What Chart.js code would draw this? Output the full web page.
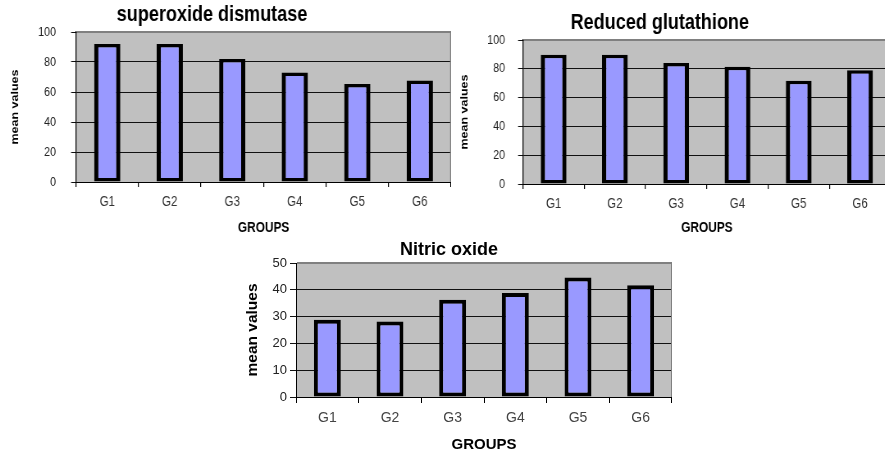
<!DOCTYPE html>
<html><head><meta charset="utf-8">
<script src="https://cdn.jsdelivr.net/npm/chart.js@4"></script>
<style>
html,body{margin:0;padding:0;background:#fff;}
body{position:relative;width:885px;height:454px;overflow:hidden;}
canvas{position:absolute;transform-origin:0 0;}
#c1,#c2{transform:scaleX(0.82);}
</style></head><body>
<canvas id="c1" width="583" height="240" style="left:-27px;top:0px"></canvas>
<canvas id="c2" width="563" height="240" style="left:429px;top:0px"></canvas>
<canvas id="c3" width="446" height="224" style="left:226px;top:230px"></canvas>
<script>
const groups = ['G1', 'G2', 'G3', 'G4', 'G5', 'G6'];
const sodValues = [92, 92, 82, 73, 65.3, 67.7];
const gshValues = [89.7, 89.7, 84, 81.5, 71.7, 79];
const noValues = [28.8, 28.2, 36.3, 38.8, 44.6, 41.7];
const sodTicks = [0, 20, 40, 60, 80, 100];
const gshTicks = [0, 20, 40, 60, 80, 100];
const noTicks = [0, 10, 20, 30, 40, 50];
const sodTitle = 'superoxide dismutase';
const gshTitle = 'Reduced glutathione';
const noTitle = 'Nitric oxide';
const yAxisTitle = 'mean values';
const xAxisTitle = 'GROUPS';

const FONT = 'Arial, "Liberation Sans", sans-serif';

const plotFrame = {
  id: 'plotFrame',
  beforeDraw(chart) {
    const {ctx, chartArea: a} = chart;
    ctx.save();
    ctx.fillStyle = '#C0C0C0';
    ctx.fillRect(a.left, a.top, a.right - a.left, a.bottom - a.top);
    ctx.restore();
  },
  beforeDatasetsDraw(chart, args, opts) {
    const {ctx, chartArea: a} = chart;
    ctx.save();
    ctx.strokeStyle = '#808080';
    ctx.lineWidth = 2;
    ctx.beginPath();
    ctx.moveTo(a.left + 1, a.top);
    ctx.lineTo(a.right, a.top);
    ctx.stroke();
    ctx.lineWidth = opts.rightWidth || 2;
    ctx.beginPath();
    ctx.moveTo(a.right, a.top - 1);
    ctx.lineTo(a.right, a.bottom);
    ctx.stroke();
    ctx.restore();
  }
};

function makeChart(id, title, values, ticks, L) {
  return new Chart(document.getElementById(id), {
    type: 'bar',
    data: {
      labels: groups,
      datasets: [{
        data: values,
        backgroundColor: '#9999FF',
        borderColor: '#000',
        borderWidth: L.barBorder,
        borderSkipped: false,
        barPercentage: L.bar,
        categoryPercentage: 1
      }]
    },
    options: {
      responsive: false,
      animation: false,
      devicePixelRatio: 1,
      layout: {padding: 0},
      plugins: {
        legend: {display: false},
        tooltip: {enabled: false},
        plotFrame: {rightWidth: L.vLine * 2},
        title: {
          display: true, text: title, color: '#000',
          font: {family: FONT, size: L.titleSize, weight: 'bold'},
          padding: L.titlePad
        }
      },
      scales: {
        x: {
          grid: {drawOnChartArea: false, drawTicks: true, tickLength: L.xTickLen, color: '#000', lineWidth: L.vLine, offset: true},
          border: {color: '#000', width: 1},
          ticks: {color: L.xTickColor, font: {family: FONT, size: L.xTickSize}, padding: L.xTickPad, maxRotation: 0, autoSkip: false},
          title: {display: true, text: xAxisTitle, color: '#000',
                  font: {family: FONT, size: L.xTitleSize, weight: 'bold'},
                  padding: {top: 0, bottom: L.xTitlePad}},
          afterFit(s) { s.height = L.xHeight; }
        },
        y: {
          min: ticks[0], max: ticks[ticks.length - 1],
          afterBuildTicks(s) { s.ticks = ticks.map(v => ({value: v})); },
          grid: {color: '#111', tickLength: L.yTickLen, drawTicks: true},
          border: {color: '#000', width: L.vLine},
          ticks: {color: '#222', font: {family: FONT, size: L.yTickSize}, padding: L.yTickPad},
          title: {display: true, text: yAxisTitle, color: '#000',
                  font: {family: FONT, size: L.yTitleSize, weight: 'bold'},
                  padding: {top: L.yTitlePad, bottom: 0}},
          afterFit(s) { s.width = L.yWidth; }
        }
      }
    },
    plugins: [plotFrame]
  });
}

makeChart('c1', sodTitle, sodValues, sodTicks, {
  bar: 0.42, barBorder: {top: 3.5, bottom: 3.5, left: 5.2, right: 5.2}, vLine: 1.2,
  titleSize: 22, titlePad: {top: 1.8, bottom: 3.8},
  xTickLen: 5, yTickLen: 6, xTickColor: '#333', xTickSize: 14, xTickPad: 6.3,
  xTitleSize: 14.5, xTitlePad: 3.3, xHeight: 58,
  yTickSize: 13, yTickPad: 18.4, yTitleSize: 12.5, yTitlePad: 43.7, yWidth: 125.6
});
makeChart('c2', gshTitle, gshValues, gshTicks, {
  bar: 0.42, barBorder: {top: 3.5, bottom: 3.5, left: 5.2, right: 5.2}, vLine: 1.2,
  titleSize: 22, titlePad: {top: 9.8, bottom: 3.8},
  xTickLen: 5, yTickLen: 6, xTickColor: '#333', xTickSize: 14, xTickPad: 6.6,
  xTitleSize: 14.5, xTitlePad: 3.8, xHeight: 56,
  yTickSize: 13, yTickPad: 15.9, yTitleSize: 12.5, yTitlePad: 36.4, yWidth: 114.6
});
makeChart('c3', noTitle, noValues, noTicks, {
  bar: 0.43, barBorder: 4, vLine: 1,
  titleSize: 18, titlePad: {top: 9.2, bottom: 2.2},
  xTickLen: 6, yTickLen: 6, xTickColor: '#444', xTickSize: 14, xTickPad: 7.1,
  xTitleSize: 15, xTitlePad: 0.5, xHeight: 57,
  yTickSize: 13, yTickPad: 3, yTitleSize: 15.5, yTitlePad: 17.7, yWidth: 70
});
</script>
</body></html>
